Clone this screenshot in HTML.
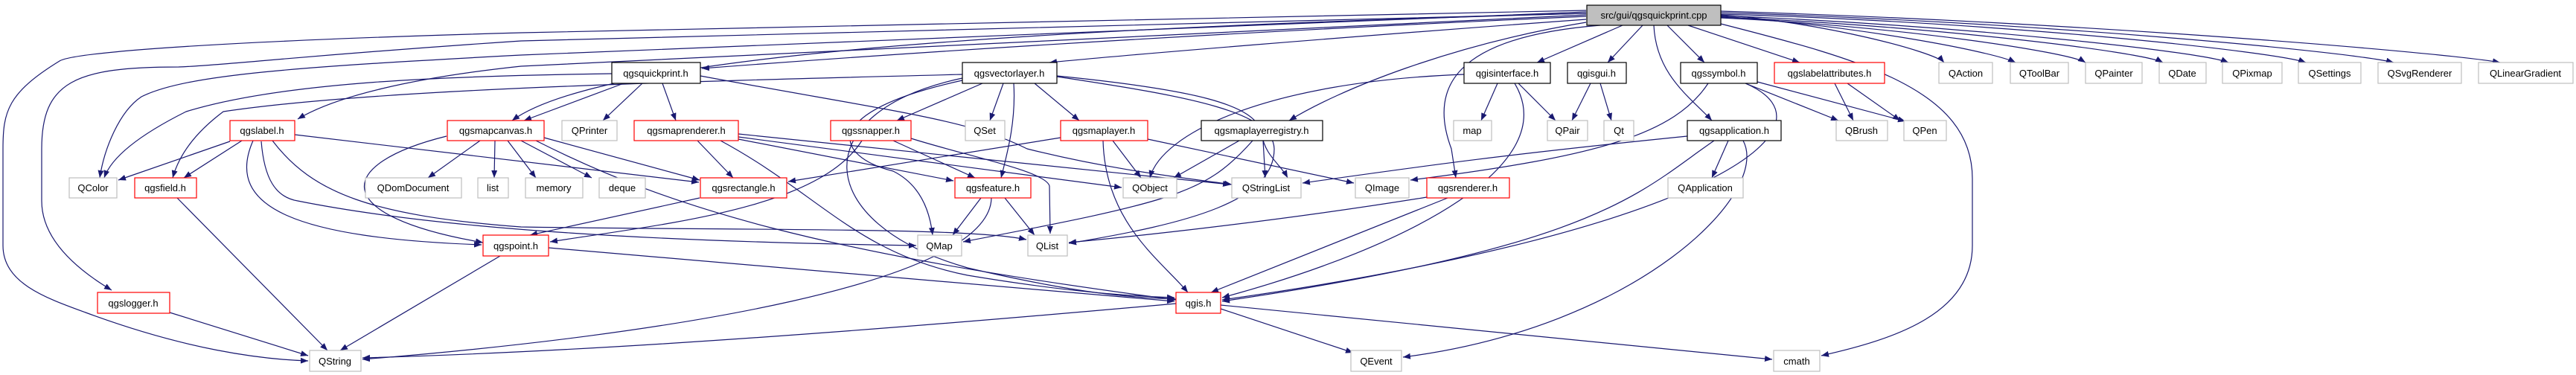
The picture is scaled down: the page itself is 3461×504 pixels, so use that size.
<!DOCTYPE html>
<html><head><meta charset="utf-8"><style>
html,body{margin:0;padding:0;background:#fff;}
svg{display:block;}
text{font-family:"Liberation Sans","DejaVu Sans",sans-serif;font-size:13px;fill:#000;text-anchor:middle;}
.e{fill:none;stroke:#191970;stroke-width:1.2;marker-end:url(#a);}
.g{fill:#fff;stroke:#bfbfbf;stroke-width:1.2;}
.r{fill:#fff;stroke:#ff0000;stroke-width:1.2;}
.b{fill:#fff;stroke:#000;stroke-width:1.2;}
</style></head><body>
<svg width="3461" height="504" viewBox="0 0 3461 504" xmlns="http://www.w3.org/2000/svg">
<defs><marker id="a" markerUnits="userSpaceOnUse" markerWidth="11" markerHeight="8" refX="10" refY="4" orient="auto"><path d="M0,0 L10,4 L0,8 z" fill="#191970"/></marker></defs>
<g>
<!-- src edges -->
<path class="e" d="M2131,14 L700,44 C300,55 100,70 80,82 C10,125 4,150 4,200 L4,330 C4,380 60,400 115,420 C250,470 350,483 414,485"/>
<path class="e" d="M2131,18 L700,55 C400,75 300,88 240,90 C100,90 56,110 56,200 L56,270 C56,320 100,360 150,390"/>
<path class="e" d="M2131,16 L700,74 C400,90 250,100 190,130 C160,150 140,200 134,239"/>
<path class="e" d="M2131,20 L700,89 C550,105 450,130 400,160"/>
<path class="e" d="M2131,18 C1300,40 800,80 688,162"/>
<path class="e" d="M2131,22 C1500,50 1100,80 943,92"/>
<path class="e" d="M2131,26 C1800,50 1500,75 1410,84"/>
<path class="e" d="M2131,30 C1950,60 1800,120 1732,162"/>
<path class="e" d="M2180,34 L2065,84"/>
<path class="e" d="M2150,34 C1950,50 1920,120 1950,200 L1956,239"/>
<path class="e" d="M2207,34 L2160,84"/>
<path class="e" d="M2240,34 L2290,84"/>
<path class="e" d="M2222,34 C2225,100 2270,130 2300,162"/>
<path class="e" d="M2268,34 L2418,84"/>
<path class="e" d="M2312,20 C2450,30 2600,70 2612,84"/>
<path class="e" d="M2312,22 C2500,35 2680,70 2708,84"/>
<path class="e" d="M2312,24 C2550,35 2780,70 2802,84"/>
<path class="e" d="M2312,23 C2600,35 2880,70 2906,84"/>
<path class="e" d="M2312,21 C2650,35 2960,70 2994,84"/>
<path class="e" d="M2312,19 C2700,30 3060,70 3098,84"/>
<path class="e" d="M2312,17 C2750,30 3160,70 3216,84"/>
<path class="e" d="M2312,15 C2800,30 3280,70 3359,84"/>
<path class="e" d="M2312,32 C2500,80 2650,120 2650,240 L2650,330 C2650,420 2550,455 2447,478"/>
<!-- quickprint -->
<path class="e" d="M863,112 L810,162"/>
<path class="e" d="M890,112 L908,162"/>
<path class="e" d="M838,112 L704,162"/>
<path class="e" d="M822,99 C600,102 380,110 250,150 C190,180 150,210 140,239"/>
<path class="e" d="M941,102 C1200,150 1300,160 1380,200 C1500,230 1600,240 1655,248"/>
<!-- vectorlayer -->
<path class="e" d="M1320,112 L1205,162"/>
<path class="e" d="M1348,112 L1330,162"/>
<path class="e" d="M1362,112 C1365,160 1355,200 1345,239"/>
<path class="e" d="M1390,112 L1450,162"/>
<path class="e" d="M1293,100 C900,110 500,120 300,150 C260,180 240,210 232,239"/>
<path class="e" d="M1293,105 C1080,150 1090,300 1300,360 C1450,395 1520,400 1580,402"/>
<path class="e" d="M1293,108 C1100,150 1120,210 1200,230 C1240,250 1250,290 1253,316"/>
<path class="e" d="M1420,102 C1600,120 1690,140 1695,180 C1700,210 1720,220 1730,239"/>
<path class="e" d="M1420,103 C1600,130 1710,150 1712,200 C1712,270 1600,300 1436,327"/>
<!-- mapcanvas -->
<path class="e" d="M645,189 L575,239"/>
<path class="e" d="M665,189 L664,239"/>
<path class="e" d="M682,189 L720,239"/>
<path class="e" d="M700,189 L795,239"/>
<path class="e" d="M731,185 L940,242"/>
<path class="e" d="M600,183 C450,220 440,290 649,326"/>
<path class="e" d="M720,189 C900,280 1100,340 1580,403"/>
<!-- qgslabel -->
<path class="e" d="M309,190 L159,242"/>
<path class="e" d="M325,189 L247,239"/>
<path class="e" d="M340,189 C300,280 400,320 647,329"/>
<path class="e" d="M351,190 C355,240 370,265 400,270 C600,310 900,325 1231,330"/>
<path class="e" d="M366,189 C420,260 500,290 700,305 C1000,310 1300,305 1379,322"/>
<path class="e" d="M396,181 L939,245"/>
<!-- maprenderer -->
<path class="e" d="M937,189 L985,239"/>
<path class="e" d="M992,187 L1281,243"/>
<path class="e" d="M992,180 L1653,248"/>
<path class="e" d="M968,189 C1100,260 1150,340 1300,370 C1450,395 1530,398 1578,400"/>
<path class="e" d="M992,184 L1507,252"/>
<!-- snapper -->
<path class="e" d="M1158,189 C1100,280 900,300 739,325"/>
<path class="e" d="M1200,189 L1310,239"/>
<path class="e" d="M1224,186 C1300,210 1405,230 1410,250 L1411,314"/>
<!-- maplayer -->
<path class="e" d="M1425,185 L1059,244"/>
<path class="e" d="M1495,189 L1533,239"/>
<path class="e" d="M1482,189 C1485,300 1560,350 1596,393"/>
<path class="e" d="M1542,187 L1819,246"/>
<!-- registry -->
<path class="e" d="M1665,189 L1577,239"/>
<path class="e" d="M1697,189 L1700,239"/>
<path class="e" d="M1683,189 C1620,260 1580,270 1294,325"/>
<!-- qgisinterface -->
<path class="e" d="M2012,112 L1990,162"/>
<path class="e" d="M2040,112 L2090,162"/>
<path class="e" d="M1967,100 C1700,110 1560,180 1545,239"/>
<path class="e" d="M2035,112 C2100,220 1900,330 1642,400"/>
<!-- qgisgui -->
<path class="e" d="M2137,112 L2112,162"/>
<path class="e" d="M2150,112 L2165,162"/>
<!-- qgssymbol -->
<path class="e" d="M2345,112 L2470,162"/>
<path class="e" d="M2361,110 L2560,163"/>
<path class="e" d="M2295,112 C2250,180 2150,210 1895,242"/>
<path class="e" d="M2345,112 C2480,170 2300,310 1642,403"/>
<!-- labelattributes -->
<path class="e" d="M2465,112 L2490,162"/>
<path class="e" d="M2482,112 L2553,162"/>
<!-- qgsapplication -->
<path class="e" d="M2322,189 L2300,239"/>
<path class="e" d="M2303,189 C2200,260 2150,330 1642,405"/>
<path class="e" d="M2267,183 C2000,210 1900,225 1750,246"/>
<path class="e" d="M2342,189 C2380,260 2200,440 1885,480"/>
<!-- renderer -->
<path class="e" d="M1945,266 L1627,393"/>
<path class="e" d="M1917,265 C1700,300 1500,320 1436,326"/>
<!-- feature -->
<path class="e" d="M1318,266 L1280,316"/>
<path class="e" d="M1350,266 L1390,316"/>
<path class="e" d="M1332,266 C1330,380 900,450 487,483"/>
<!-- rectangle, point, field, logger -->
<path class="e" d="M940,266 L712,316"/>
<path class="e" d="M737,333 L1578,405"/>
<path class="e" d="M672,344 L457,471"/>
<path class="e" d="M238,266 L440,471"/>
<path class="e" d="M228,420 L414,478"/>
<!-- qgis -->
<path class="e" d="M1580,408 C1000,460 700,475 487,481"/>
<path class="e" d="M1640,415 L1818,474"/>
<path class="e" d="M1640,410 L2381,483"/>
</g>
<g>
<rect x="2132" y="7" width="180" height="27" fill="#bfbfbf" stroke="#000" stroke-width="1.2"/><text x="2222" y="25">src/gui/qgsquickprint.cpp</text>
<rect class="b" x="822" y="84" width="119" height="28"/><text x="881" y="103">qgsquickprint.h</text>
<rect class="b" x="1293" y="84" width="127" height="28"/><text x="1356" y="103">qgsvectorlayer.h</text>
<rect class="b" x="1967" y="84" width="116" height="28"/><text x="2025" y="103">qgisinterface.h</text>
<rect class="b" x="2106" y="84" width="79" height="28"/><text x="2145" y="103">qgisgui.h</text>
<rect class="b" x="2258" y="84" width="103" height="28"/><text x="2309" y="103">qgssymbol.h</text>
<rect class="r" x="2384" y="84" width="148" height="28"/><text x="2458" y="103">qgslabelattributes.h</text>
<rect class="g" x="2605" y="84" width="72" height="28"/><text x="2641" y="103">QAction</text>
<rect class="g" x="2701" y="84" width="78" height="28"/><text x="2740" y="103">QToolBar</text>
<rect class="g" x="2802" y="84" width="76" height="28"/><text x="2840" y="103">QPainter</text>
<rect class="g" x="2901" y="84" width="63" height="28"/><text x="2932" y="103">QDate</text>
<rect class="g" x="2986" y="84" width="80" height="28"/><text x="3026" y="103">QPixmap</text>
<rect class="g" x="3088" y="84" width="84" height="28"/><text x="3130" y="103">QSettings</text>
<rect class="g" x="3195" y="84" width="112" height="28"/><text x="3251" y="103">QSvgRenderer</text>
<rect class="g" x="3330" y="84" width="127" height="28"/><text x="3393" y="103">QLinearGradient</text>

<rect class="r" x="309" y="162" width="87" height="27"/><text x="352" y="180">qgslabel.h</text>
<rect class="r" x="601" y="162" width="130" height="27"/><text x="666" y="180">qgsmapcanvas.h</text>
<rect class="g" x="755" y="162" width="74" height="27"/><text x="792" y="180">QPrinter</text>
<rect class="r" x="852" y="162" width="140" height="27"/><text x="922" y="180">qgsmaprenderer.h</text>
<rect class="r" x="1116" y="162" width="108" height="27"/><text x="1170" y="180">qgssnapper.h</text>
<rect class="g" x="1297" y="162" width="53" height="27"/><text x="1323" y="180">QSet</text>
<rect class="r" x="1425" y="162" width="117" height="27"/><text x="1483" y="180">qgsmaplayer.h</text>
<rect class="b" x="1614" y="162" width="163" height="27"/><text x="1695" y="180">qgsmaplayerregistry.h</text>
<rect class="g" x="1953" y="162" width="51" height="27"/><text x="1978" y="180">map</text>
<rect class="g" x="2079" y="162" width="54" height="27"/><text x="2106" y="180">QPair</text>
<rect class="g" x="2155" y="162" width="40" height="27"/><text x="2175" y="180">Qt</text>
<rect class="b" x="2267" y="162" width="126" height="27"/><text x="2330" y="180">qgsapplication.h</text>
<rect class="g" x="2467" y="162" width="69" height="27"/><text x="2501" y="180">QBrush</text>
<rect class="g" x="2558" y="162" width="57" height="27"/><text x="2586" y="180">QPen</text>

<rect class="g" x="93" y="239" width="64" height="27"/><text x="125" y="257">QColor</text>
<rect class="r" x="181" y="239" width="83" height="27"/><text x="222" y="257">qgsfield.h</text>
<rect class="g" x="491" y="239" width="129" height="27"/><text x="555" y="257">QDomDocument</text>
<rect class="g" x="642" y="239" width="41" height="27"/><text x="662" y="257">list</text>
<rect class="g" x="706" y="239" width="77" height="27"/><text x="744" y="257">memory</text>
<rect class="g" x="805" y="239" width="62" height="27"/><text x="836" y="257">deque</text>
<rect class="r" x="941" y="239" width="116" height="27"/><text x="999" y="257">qgsrectangle.h</text>
<rect class="r" x="1283" y="239" width="102" height="27"/><text x="1334" y="257">qgsfeature.h</text>
<rect class="g" x="1509" y="239" width="72" height="27"/><text x="1545" y="257">QObject</text>
<rect class="g" x="1655" y="239" width="93" height="27"/><text x="1701" y="257">QStringList</text>
<rect class="g" x="1821" y="239" width="72" height="27"/><text x="1857" y="257">QImage</text>
<rect class="r" x="1917" y="239" width="111" height="27"/><text x="1972" y="257">qgsrenderer.h</text>
<rect class="g" x="2241" y="239" width="101" height="27"/><text x="2291" y="257">QApplication</text>

<rect class="r" x="649" y="316" width="88" height="28"/><text x="693" y="335">qgspoint.h</text>
<rect class="g" x="1233" y="316" width="59" height="28"/><text x="1262" y="335">QMap</text>
<rect class="g" x="1381" y="316" width="53" height="28"/><text x="1407" y="335">QList</text>

<rect class="r" x="131" y="393" width="97" height="28"/><text x="179" y="412">qgslogger.h</text>
<rect class="r" x="1580" y="393" width="60" height="28"/><text x="1610" y="412">qgis.h</text>

<rect class="g" x="416" y="471" width="69" height="28"/><text x="450" y="490">QString</text>
<rect class="g" x="1815" y="471" width="68" height="28"/><text x="1849" y="490">QEvent</text>
<rect class="g" x="2383" y="471" width="62" height="28"/><text x="2414" y="490">cmath</text>
</g>
</svg>
</body></html>
